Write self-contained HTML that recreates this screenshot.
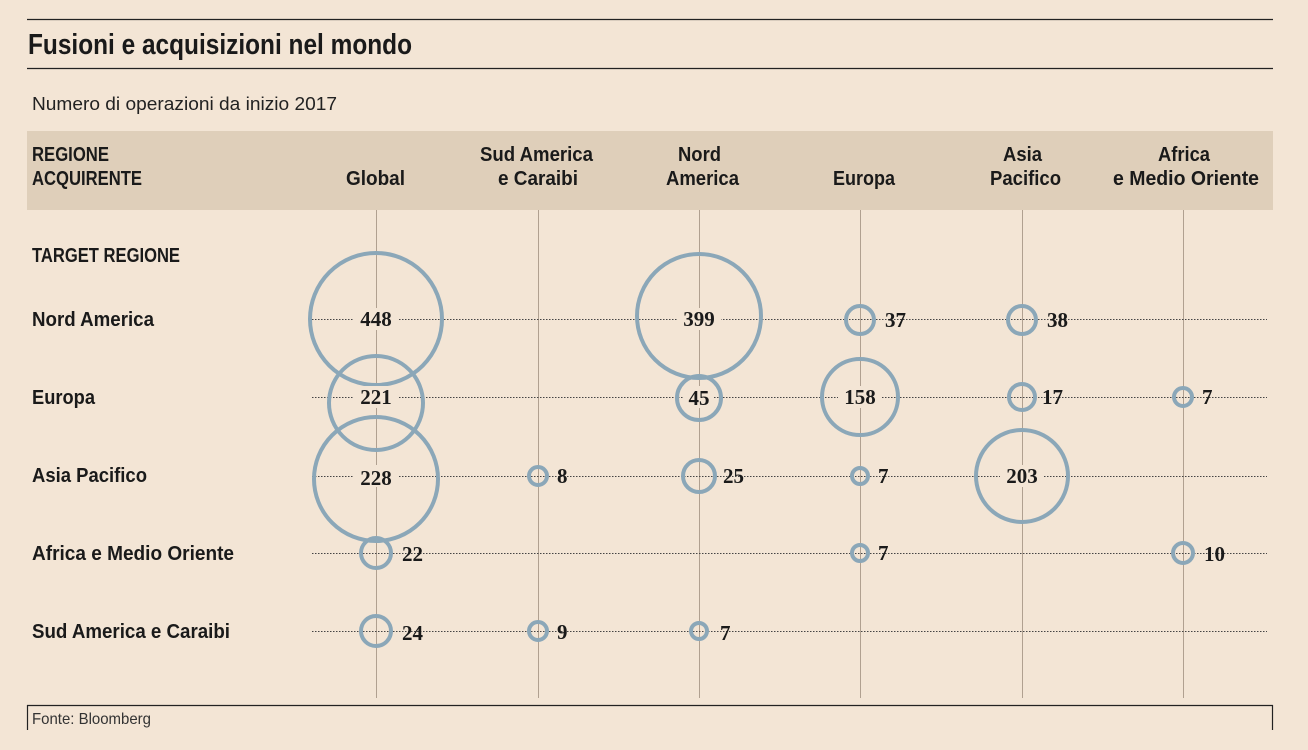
<!DOCTYPE html>
<html><head><meta charset="utf-8"><style>
body{margin:0;background:#f3e5d5;}
svg{display:block}
.h{font-family:"Liberation Sans Narrow","Liberation Sans",sans-serif;font-weight:bold;fill:#1a1a1a}
.n{font-family:"Liberation Serif",serif;font-weight:bold;font-size:21px;fill:#1a1a1a}
</style></head><body>
<svg width="1308" height="750" viewBox="0 0 1308 750" xmlns="http://www.w3.org/2000/svg">
<rect width="1308" height="750" fill="#f3e5d5"/>
<line x1="27" y1="19.5" x2="1273" y2="19.5" stroke="#222" stroke-width="1.2"/>
<line x1="27" y1="68.5" x2="1273" y2="68.5" stroke="#222" stroke-width="1.2"/>
<text x="28" y="54" class="h" font-size="29" textLength="384" lengthAdjust="spacingAndGlyphs">Fusioni e acquisizioni nel mondo</text>
<text x="32" y="110" font-family="Liberation Sans Narrow,Liberation Sans,sans-serif" font-size="18" fill="#222" textLength="305" lengthAdjust="spacingAndGlyphs">Numero di operazioni da inizio 2017</text>
<rect x="27" y="131" width="1246" height="79" fill="#dfcfba"/>
<g class="h" font-size="20">
<text x="32" y="161" textLength="77" lengthAdjust="spacingAndGlyphs">REGIONE</text>
<text x="32" y="185" textLength="110" lengthAdjust="spacingAndGlyphs">ACQUIRENTE</text>
<text x="346" y="185" textLength="59" lengthAdjust="spacingAndGlyphs">Global</text>
<text x="480" y="161" textLength="113" lengthAdjust="spacingAndGlyphs">Sud America</text>
<text x="498" y="185" textLength="80" lengthAdjust="spacingAndGlyphs">e Caraibi</text>
<text x="678" y="161" textLength="43" lengthAdjust="spacingAndGlyphs">Nord</text>
<text x="666" y="185" textLength="73" lengthAdjust="spacingAndGlyphs">America</text>
<text x="833" y="185" textLength="62" lengthAdjust="spacingAndGlyphs">Europa</text>
<text x="1003" y="161" textLength="39" lengthAdjust="spacingAndGlyphs">Asia</text>
<text x="990" y="185" textLength="71" lengthAdjust="spacingAndGlyphs">Pacifico</text>
<text x="1158" y="161" textLength="52" lengthAdjust="spacingAndGlyphs">Africa</text>
<text x="1113" y="185" textLength="146" lengthAdjust="spacingAndGlyphs">e Medio Oriente</text>
<text x="32" y="262" textLength="148" lengthAdjust="spacingAndGlyphs">TARGET REGIONE</text>
<text x="32" y="326" textLength="122" lengthAdjust="spacingAndGlyphs">Nord America</text>
<text x="32" y="404" textLength="63" lengthAdjust="spacingAndGlyphs">Europa</text>
<text x="32" y="482" textLength="115" lengthAdjust="spacingAndGlyphs">Asia Pacifico</text>
<text x="32" y="560" textLength="202" lengthAdjust="spacingAndGlyphs">Africa e Medio Oriente</text>
<text x="32" y="638" textLength="198" lengthAdjust="spacingAndGlyphs">Sud America e Caraibi</text>
</g>
<g stroke="#b0a090" stroke-width="1">
<line x1="376.5" y1="210" x2="376.5" y2="698"/><line x1="538.5" y1="210" x2="538.5" y2="698"/>
<line x1="699.5" y1="210" x2="699.5" y2="698"/><line x1="860.5" y1="210" x2="860.5" y2="698"/>
<line x1="1022.5" y1="210" x2="1022.5" y2="698"/><line x1="1183.5" y1="210" x2="1183.5" y2="698"/>
</g>
<g stroke="#444" stroke-width="1" stroke-dasharray="1.5,1.5">
<line x1="312" y1="319.5" x2="1267" y2="319.5"/><line x1="312" y1="397.5" x2="1267" y2="397.5"/>
<line x1="312" y1="476.5" x2="1267" y2="476.5"/><line x1="312" y1="553.5" x2="1267" y2="553.5"/>
<line x1="312" y1="631.5" x2="1267" y2="631.5"/>
</g>
<g fill="none" stroke="#8ba7b8" stroke-width="4">
<circle cx="376" cy="319" r="66"/><circle cx="699" cy="316" r="62"/>
<circle cx="860" cy="320" r="14"/><circle cx="1022" cy="320" r="14"/>
<circle cx="376" cy="403" r="47"/><circle cx="699" cy="398" r="22"/>
<circle cx="860" cy="397" r="38"/><circle cx="1022" cy="397" r="13"/><circle cx="1183" cy="397" r="9"/>
<circle cx="376" cy="479" r="62"/><circle cx="538" cy="476" r="9"/><circle cx="699" cy="476" r="16"/>
<circle cx="860" cy="476" r="8"/><circle cx="1022" cy="476" r="46"/>
<circle cx="376" cy="553" r="15"/><circle cx="860" cy="553" r="8"/><circle cx="1183" cy="553" r="10"/>
<circle cx="376" cy="631" r="15"/><circle cx="538" cy="631" r="9"/><circle cx="699" cy="631" r="8"/>
</g>
<g class="n">
<g fill="#f3e5d5" stroke="none">
<rect x="354" y="308" width="44" height="22"/><rect x="677" y="308" width="44" height="22"/>
<rect x="354" y="386" width="44" height="22"/><rect x="684" y="386" width="30" height="22"/>
<rect x="838" y="386" width="44" height="22"/><rect x="354" y="465" width="44" height="22"/>
<rect x="1000" y="465" width="44" height="22"/>
</g>
<text x="376" y="326" text-anchor="middle">448</text>
<text x="699" y="326" text-anchor="middle">399</text>
<text x="885" y="327">37</text><text x="1047" y="327">38</text>
<text x="376" y="404" text-anchor="middle">221</text>
<text x="699" y="405" text-anchor="middle">45</text>
<text x="860" y="404" text-anchor="middle">158</text>
<text x="1042" y="404">17</text><text x="1202" y="404">7</text>
<text x="376" y="485" text-anchor="middle">228</text>
<text x="557" y="483">8</text><text x="723" y="483">25</text><text x="878" y="483">7</text>
<text x="1022" y="483" text-anchor="middle">203</text>
<text x="402" y="561">22</text><text x="878" y="560">7</text><text x="1204" y="561">10</text>
<text x="402" y="640">24</text><text x="557" y="639">9</text><text x="720" y="640">7</text>
</g>
<line x1="27" y1="705.5" x2="1273" y2="705.5" stroke="#222" stroke-width="1.2"/>
<line x1="27.5" y1="705" x2="27.5" y2="730" stroke="#222" stroke-width="1.2"/>
<line x1="1272.5" y1="705" x2="1272.5" y2="730" stroke="#222" stroke-width="1.2"/>
<text x="32" y="724" font-family="Liberation Sans Narrow,Liberation Sans,sans-serif" font-size="16" fill="#333" textLength="119" lengthAdjust="spacingAndGlyphs">Fonte: Bloomberg</text>
</svg>
</body></html>
